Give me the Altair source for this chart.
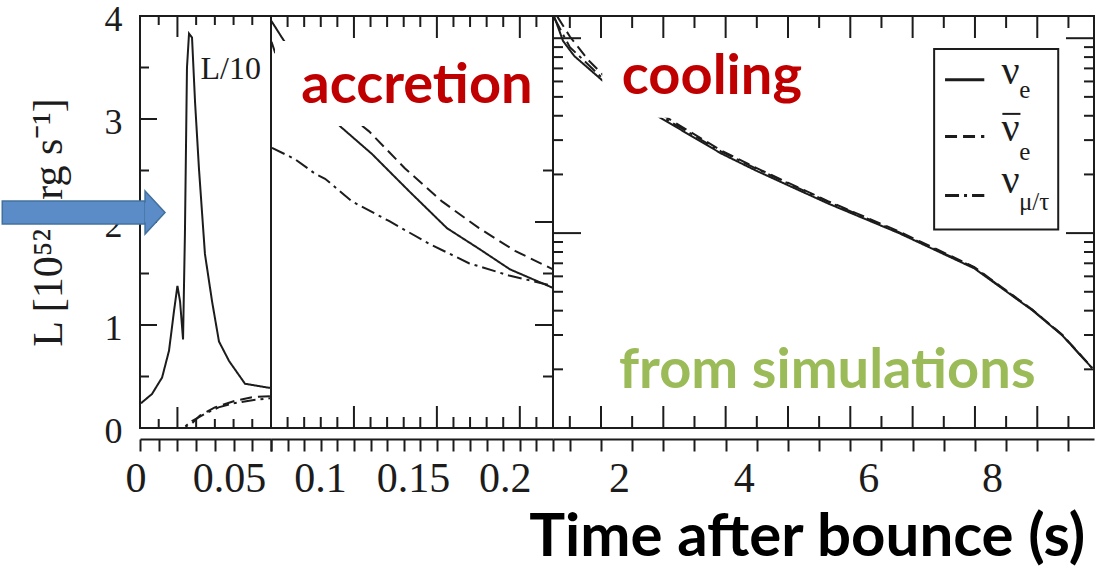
import math
import altair as alt
import pandas as pd

INK = "#1c1c1c"
SERIF = "Liberation Serif"
SANS = "Lato"
RED = "#c00000"
GREEN = "#9bbb59"
BLUE = "#5b8cc8"
BLUE_EDGE = "#41719c"
H = 412  # plot height in px
TICK_W = 2.0

# ---------------- data ----------------
FLAVORS = ["nue", "nuebar", "nux"]

# Panel 1: burst phase (nu_e drawn as L/10)
p1_t_nue = [-0.0195, -0.0136, -0.0082, -0.0045, -0.0018, 0.0, 0.0014, 0.0030, 0.0040,
            0.0051, 0.0062, 0.0078, 0.0094, 0.0115, 0.0147, 0.0185, 0.0222, 0.0276,
            0.0361, 0.0490, 0.0500]
p1_L_nue = [0.24, 0.33, 0.49, 0.75, 1.14, 1.38, 1.23, 0.86, 1.88,
            3.50, 3.83, 3.79, 3.17, 2.52, 1.69, 1.23, 0.84, 0.65,
            0.43, 0.39, 0.39]
p1_t_nuebar = [-0.02, 0.004, 0.008, 0.012, 0.020, 0.030, 0.040, 0.050]
p1_L_nuebar = [0.0, 0.0, 0.05, 0.12, 0.20, 0.26, 0.30, 0.31]
p1_t_nux = [-0.02, 0.003, 0.008, 0.015, 0.022, 0.030, 0.040, 0.050]
p1_L_nux = [0.0, 0.0, 0.07, 0.14, 0.20, 0.24, 0.27, 0.29]

# Panel 2: accretion phase
p2_t_nue = [0.0503, 0.0566, 0.0916, 0.1109, 0.1332, 0.1561, 0.1754, 0.1941, 0.2200]
p2_L_nue = [3.95, 3.79, 2.93, 2.66, 2.30, 1.94, 1.74, 1.54, 1.36]
p2_t_nuebar = [0.0503, 0.0536, 0.1091, 0.1308, 0.1531, 0.1754, 0.1971, 0.2200]
p2_L_nuebar = [3.75, 3.59, 2.88, 2.52, 2.20, 1.94, 1.72, 1.54]
p2_t_nux = [0.0506, 0.0645, 0.0765, 0.0826, 0.0988, 0.1211, 0.1452, 0.1693, 0.1935, 0.2200]
p2_L_nux = [2.72, 2.61, 2.47, 2.42, 2.20, 2.01, 1.79, 1.60, 1.48, 1.38]

# Panel 3: cooling phase (logarithmic L axis)
p3_t_nue = [1.25, 1.39, 1.57, 2.03, 2.95, 3.93, 4.49, 5.64, 6.78, 7.99, 8.92, 9.40, 9.88]
p3_L_nue = [12.9, 9.69, 8.11, 6.04, 3.91, 2.56, 2.09, 1.42, 1.00, 0.659, 0.402, 0.299, 0.203]
p3_t_nuebar = [1.30, 1.50, 1.80, 2.03, 2.95, 3.93, 4.49, 5.64, 6.78, 7.99, 8.92, 9.40, 9.88]
p3_L_nuebar = [12.9, 10.2, 7.7, 6.5, 4.1, 2.65, 2.16, 1.46, 1.02, 0.67, 0.405, 0.301, 0.204]
p3_t_nux = [1.25, 1.50, 2.03, 2.95, 3.93, 4.49, 5.64, 6.78, 7.99, 8.92, 9.40, 9.88]
p3_L_nux = [12.7, 9.0, 6.2, 4.0, 2.62, 2.14, 1.45, 1.01, 0.665, 0.404, 0.300, 0.203]

# axis tick / label values
p1_long = [0.0]
p1_short = [-0.01, 0.01, 0.02, 0.03, 0.04]
p1_strip = [-0.02, -0.01, 0.0, 0.01, 0.02, 0.03, 0.04, 0.05]
p2_long = [0.1, 0.15, 0.2]
p2_short = [0.06, 0.07, 0.08, 0.09, 0.11, 0.12, 0.13, 0.14, 0.16, 0.17, 0.18, 0.19, 0.21]
p2_strip = [0.05, 0.06, 0.07, 0.08, 0.09, 0.1, 0.11, 0.12, 0.13, 0.14, 0.15, 0.16,
            0.17, 0.18, 0.19, 0.2, 0.21, 0.22]
p3_long = [2, 3, 4, 5, 6, 7, 8, 9]
p3_short = [1.5, 2.5, 3.5, 4.5, 5.5, 6.5, 7.5, 8.5, 9.5]
p3_strip = [1.5, 2, 2.5, 3, 3.5, 4, 4.5, 5, 5.5, 6, 6.5, 7, 7.5, 8, 8.5, 9, 9.5]
lin_long = [1, 2, 3]
lin_short = [0.5, 1.5, 2.5, 3.5]
log_long = [1, 10]
log_short = [0.2, 0.3, 0.4, 0.5, 0.6, 0.7, 0.8, 0.9, 2, 3, 4, 5, 6, 7, 8, 9]
y_labels = [0, 1, 2, 3, 4]


def long_df(parts):
    rows = []
    for flavor, ts, Ls in parts:
        for t, L in zip(ts, Ls):
            rows.append({"t": t, "L": L, "flavor": flavor})
    return pd.DataFrame(rows)


df1 = long_df([("nue", p1_t_nue, p1_L_nue), ("nuebar", p1_t_nuebar, p1_L_nuebar),
               ("nux", p1_t_nux, p1_L_nux)])
df2 = long_df([("nue", p2_t_nue, p2_L_nue), ("nuebar", p2_t_nuebar, p2_L_nuebar),
               ("nux", p2_t_nux, p2_L_nux)])
df3 = long_df([("nue", p3_t_nue, p3_L_nue), ("nuebar", p3_t_nuebar, p3_L_nuebar),
               ("nux", p3_t_nux, p3_L_nux)])

DASH = alt.Scale(domain=FLAVORS, range=[[1, 0], [12, 6], [14, 5, 3, 5]])

X1D, X2D, X3D = [-0.02, 0.05], [0.05, 0.22], [1.23, 9.91]
YLIND, YLOGD = [0, 4], [0.1, 13.0]
X1 = alt.Scale(domain=X1D, nice=False, zero=False)
X2 = alt.Scale(domain=X2D, nice=False, zero=False)
X3 = alt.Scale(domain=X3D, nice=False, zero=False)
YLIN = alt.Scale(domain=YLIND, nice=False, zero=False)
YLOG = alt.Scale(type="log", domain=YLOGD, nice=False)


def strip_ticks(values):
    return alt.Axis(orient="bottom", values=values, tickCount=len(values), offset=11,
                    tickSize=12, ticks=True, labels=False, domain=True, domainColor=INK,
                    domainWidth=2, tickColor=INK, tickWidth=TICK_W, grid=False, title=None,
                    minExtent=0)


def strip_label(value, text, dx):
    return alt.Axis(orient="bottom", values=[value], offset=11, ticks=False, domain=False,
                    grid=False, title=None, labels=True, labelExpr=f"'{text}'",
                    labelFont=SERIF, labelFontSize=42, labelColor=INK, labelPadding=19,
                    labelOffset=dx, labelFlush=False, labelOverlap=False, labelBound=False,
                    minExtent=0)


# ----- inward frame ticks: rule segments whose two ends are placed through the scales
def y_shift(edge, px, dom, log):
    # value reached when moving `px` pixels (positive = upward) from `edge` on the y scale
    if log:
        per = H / (math.log10(dom[1]) - math.log10(dom[0]))
        return 10 ** (math.log10(edge) + px / per)
    return edge + px * (dom[1] - dom[0]) / H


def xticks(values, xs, ys, ydom, log, length, side):
    edge = ydom[1] if side == "top" else ydom[0]
    inner = y_shift(edge, -length if side == "top" else length, ydom, log)
    d = pd.DataFrame({"v": values, "a": [edge] * len(values), "b": [inner] * len(values)})
    return alt.Chart(d).mark_rule(color=INK, strokeWidth=TICK_W).encode(
        x=alt.X("v:Q", scale=xs, axis=None), y=alt.Y("a:Q", scale=ys, axis=None), y2="b:Q")


def yticks(values, xs, xdom, width, ys, length, side):
    per = (xdom[1] - xdom[0]) / width
    edge = xdom[0] if side == "left" else xdom[1]
    inner = edge + length * per if side == "left" else edge - length * per
    d = pd.DataFrame({"v": values, "a": [edge] * len(values), "b": [inner] * len(values)})
    return alt.Chart(d).mark_rule(color=INK, strokeWidth=TICK_W).encode(
        y=alt.Y("v:Q", scale=ys, axis=None), x=alt.X("a:Q", scale=xs, axis=None), x2="b:Q")


def panel(df, xs, ys, width, xaxes, yaxis, ticks, extras):
    layers = []
    for i, xa in enumerate(xaxes):
        x = alt.X("t:Q", scale=xs, axis=xa)
        y = alt.Y("L:Q", scale=ys, axis=yaxis if i == 0 else None)
        if i == 0:
            layers.append(alt.Chart(df).mark_line(color=INK, strokeWidth=2).encode(
                x=x, y=y, strokeDash=alt.StrokeDash("flavor:N", scale=DASH, legend=None)))
        else:
            layers.append(alt.Chart(df).mark_point(opacity=0).encode(x=x, y=y))
    layers += ticks
    layers += extras(xs, ys)
    return alt.layer(*layers).resolve_axis(x="independent", y="independent").properties(
        width=width, height=H)


def text_layer(t, L, label, xs, ys, **kw):
    d = pd.DataFrame({"t": t, "L": L, "label": label})
    return alt.Chart(d).mark_text(baseline="alphabetic", align="center", **kw).encode(
        x=alt.X("t:Q", scale=xs, axis=None), y=alt.Y("L:Q", scale=ys, axis=None),
        text="label:N")


def rect_layer(t1, t2, L1, L2, xs, ys, **kw):
    d = pd.DataFrame({"t": [t1], "t2": [t2], "L": [L1], "L2": [L2]})
    return alt.Chart(d).mark_rect(**kw).encode(
        x=alt.X("t:Q", scale=xs, axis=None), x2="t2:Q",
        y=alt.Y("L:Q", scale=ys, axis=None), y2="L2:Q")


# ---------- annotations ----------
arrow_body_t = [-0.0936, -0.0173]
arrow_body_L = [2.204, 1.981]
arrow_head_t = [-0.0173, -0.00664]
arrow_head_hi = [2.301, 2.092]
arrow_head_lo = [1.883, 2.092]


def extras1(xs, ys):
    body = rect_layer(arrow_body_t[0], arrow_body_t[1], arrow_body_L[0], arrow_body_L[1],
                      xs, ys, fill=BLUE, stroke=BLUE_EDGE, strokeWidth=1.5)
    hd = pd.DataFrame({"t": arrow_head_t, "hi": arrow_head_hi, "lo": arrow_head_lo})
    head = alt.Chart(hd).mark_area(fill=BLUE, stroke=BLUE_EDGE, strokeWidth=1.5,
                                   fillOpacity=1, orient="vertical").encode(
        x=alt.X("t:Q", scale=xs, axis=None),
        y=alt.Y("hi:Q", scale=ys, axis=None, stack=None), y2="lo:Q")
    cover = rect_layer(-0.0175, -0.0168, 2.19, 1.995, xs, ys, fill=BLUE)
    lab = text_layer([0.0285], [3.39], ["L/10"], xs, ys, font=SERIF, fontSize=32, color=INK)
    return [lab, body, head, cover]


def extras2(xs, ys):
    box = rect_layer(0.0524, 0.22, 3.757, 2.932, xs, ys, color="white")
    txt = text_layer([0.138], [3.155], ["accretion"], xs, ys, font=SANS, fontSize=56,
                     fontWeight="bold", color=RED)
    return [box, txt]


def extras3(xs, ys):
    box = rect_layer(2.02, 7.345, 9.8, 3.91, xs, ys, color="white")
    txt = text_layer([3.78], [5.19], ["cooling"], xs, ys, font=SANS, fontSize=56,
                     fontWeight="bold", color=RED)
    sim = text_layer([5.63], [0.160], ["from simulations"], xs, ys, font=SANS,
                     fontSize=56, fontWeight="bold", color=GREEN)
    leg_box = rect_layer(7.345, 9.336, 8.81, 1.044, xs, ys, fill="white", stroke=INK,
                         strokeWidth=2)
    ld = pd.DataFrame({"t": [7.52] * 3, "t2": [8.15] * 3, "L": [6.12, 3.13, 1.56],
                       "flavor": FLAVORS})
    leg_lines = alt.Chart(ld).mark_rule(color=INK, strokeWidth=3).encode(
        x=alt.X("t:Q", scale=xs, axis=None), x2="t2:Q",
        y=alt.Y("L:Q", scale=ys, axis=None),
        strokeDash=alt.StrokeDash("flavor:N", scale=DASH, legend=None))
    nu = text_layer([8.57, 8.57, 8.57], [5.83, 2.98, 1.60], ["ν", "ν", "ν"], xs, ys,
                    font=SERIF, fontSize=40, color=INK)
    sub = text_layer([8.80, 8.80, 8.95], [4.95, 2.36, 1.31], ["e", "e", "μ/τ"], xs, ys,
                     font=SERIF, fontSize=25, color=INK)
    md = pd.DataFrame({"t": [8.44], "t2": [8.73], "L": [4.09]})
    macron = alt.Chart(md).mark_rule(color=INK, strokeWidth=2).encode(
        x=alt.X("t:Q", scale=xs, axis=None), x2="t2:Q", y=alt.Y("L:Q", scale=ys, axis=None))
    return [box, txt, sim, leg_box, leg_lines, nu, sub, macron]


ylab_axis = alt.Axis(orient="left", values=y_labels, format="d", ticks=False, domain=False,
                     grid=False, labelFont=SERIF, labelFontSize=36, labelColor=INK,
                     labelPadding=18, labelOffset=3, labelFlush=False, labelOverlap=False,
                     labelBound=False, title="L [10⁵² erg s⁻¹]", titleFont=SERIF,
                     titleFontSize=42, titleFontWeight="normal", titleColor=INK,
                     titlePadding=34, minExtent=0)

p1 = panel(df1, X1, YLIN, 131,
           [strip_label(0, "0", -42), strip_label(0.05, "0.05", -42), strip_ticks(p1_strip)],
           ylab_axis,
           [xticks(p1_long, X1, YLIN, YLIND, False, 21, "top"),
            xticks(p1_short, X1, YLIN, YLIND, False, 9, "top"),
            xticks(p1_long, X1, YLIN, YLIND, False, 21, "bottom"),
            xticks(p1_short, X1, YLIN, YLIND, False, 9, "bottom"),
            yticks(lin_long, X1, X1D, 131, YLIN, 17, "left"),
            yticks(lin_short, X1, X1D, 131, YLIN, 9, "left")],
           extras1)

p2 = panel(df2, X2, YLIN, 282,
           [strip_label(0.1, "0.1", -34), strip_label(0.15, "0.15", -24),
            strip_label(0.2, "0.2", -15), strip_ticks(p2_strip)],
           None,
           [xticks(p2_long, X2, YLIN, YLIND, False, 22, "top"),
            xticks(p2_short, X2, YLIN, YLIND, False, 11, "top"),
            xticks(p2_long, X2, YLIN, YLIND, False, 22, "bottom"),
            xticks(p2_short, X2, YLIN, YLIND, False, 11, "bottom"),
            yticks(lin_long, X2, X2D, 282, YLIN, 18, "right"),
            yticks(lin_short, X2, X2D, 282, YLIN, 10, "right")],
           extras2)

p3 = panel(df3, X3, YLOG, 541,
           [strip_label(2, "2", 18), strip_label(4, "4", 18), strip_label(6, "6", 18),
            strip_label(8, "8", 17), strip_ticks(p3_strip)],
           None,
           [xticks(p3_long, X3, YLOG, YLOGD, True, 22, "top"),
            xticks(p3_short, X3, YLOG, YLOGD, True, 12, "top"),
            xticks(p3_long, X3, YLOG, YLOGD, True, 22, "bottom"),
            xticks(p3_short, X3, YLOG, YLOGD, True, 12, "bottom"),
            yticks(log_long, X3, X3D, 541, YLOG, 28, "left"),
            yticks(log_short, X3, X3D, 541, YLOG, 10, "left"),
            yticks(log_long, X3, X3D, 541, YLOG, 28, "right"),
            yticks(log_short, X3, X3D, 541, YLOG, 10, "right")],
           extras3)

chart = alt.hconcat(p1, p2, p3, spacing=0, bounds="flush").properties(
    title=alt.TitleParams(text="Time after bounce (s)", orient="bottom", anchor="end",
                          font=SANS, fontSize=60, fontWeight="bold", color="black",
                          offset=9, dx=-12),
    padding={"left": 0, "top": 0, "right": 5, "bottom": 5},
    background="white",
).configure_view(stroke=INK, strokeWidth=2)

chart.save("out.html", embed_options={"renderer": "svg", "actions": False})
